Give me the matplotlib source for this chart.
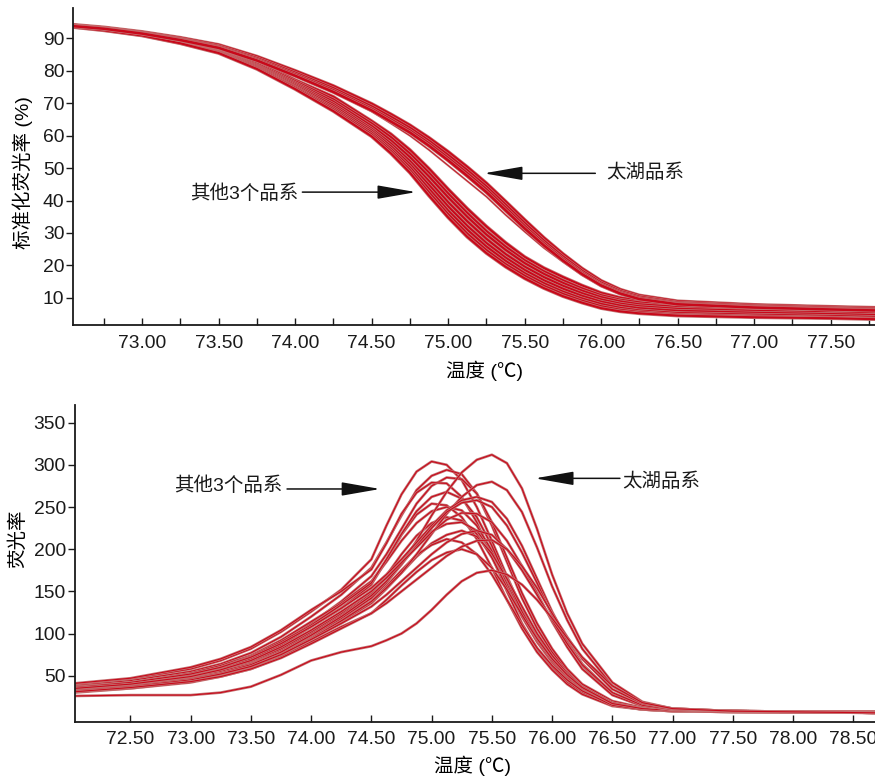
import matplotlib
matplotlib.use("Agg")
import matplotlib.pyplot as plt
import numpy as np

plt.rcParams['font.family'] = ['Liberation Sans', 'Noto Sans CJK SC', 'DejaVu Sans']

# ---------------- top panel: normalised melting curves ----------------
temp_top = [72.55, 72.75, 73.0, 73.25, 73.5, 73.75, 74.0, 74.25, 74.5, 74.625, 74.75, 74.875,
            75.0, 75.125, 75.25, 75.375, 75.5, 75.625, 75.75, 75.875, 76.0, 76.125, 76.25,
            76.5, 77.0, 77.5, 77.79]

taihu_norm = [
    [94.2, 93.4, 92.0, 90.2, 88.0, 84.4, 80.0, 75.3, 69.8, 66.6, 63.2, 59.3, 55.0, 50.3, 45.3, 39.7, 34.0, 28.5, 23.5, 19.0, 15.2, 12.5, 10.7, 8.9, 7.8, 7.2, 6.9],
    [94.0, 93.2, 91.8, 89.9, 87.6, 83.9, 79.4, 74.6, 69.0, 65.8, 62.4, 58.4, 54.0, 49.3, 44.3, 38.7, 33.0, 27.6, 22.7, 18.3, 14.6, 12.0, 10.3, 8.5, 7.5, 6.9, 6.6],
    [93.9, 93.1, 91.6, 89.7, 87.3, 83.5, 78.9, 74.0, 68.3, 65.0, 61.6, 57.6, 53.1, 48.4, 43.4, 37.8, 32.1, 26.8, 22.0, 17.7, 14.1, 11.6, 9.9, 8.2, 7.2, 6.6, 6.3],
    [93.8, 93.0, 91.5, 89.5, 87.1, 83.2, 78.5, 73.5, 67.8, 64.4, 61.0, 56.9, 52.4, 47.6, 42.6, 37.0, 31.4, 26.2, 21.5, 17.3, 13.8, 11.3, 9.6, 8.0, 7.0, 6.4, 6.1],
]
taihu_light = [93.9, 93.1, 91.6, 89.6, 87.2, 83.4, 78.6, 73.5, 67.5, 63.8, 60.0, 55.6, 50.8, 46.0, 41.2, 35.6, 30.4, 25.4, 21.1, 17.0, 13.6, 11.1, 9.5, 7.9, 6.9, 6.3, 6.0]

other_norm = [
    [94.0, 93.1, 91.6, 89.5, 87.0, 83.0, 77.2, 72.0, 64.5, 60.5, 55.6, 49.8, 43.5, 37.5, 32.0, 27.0, 22.6, 19.2, 16.4, 13.8, 11.5, 10.0, 9.2, 8.3, 7.6, 7.0, 6.6],
    [93.9, 93.0, 91.5, 89.3, 86.7, 82.6, 76.8, 71.2, 63.8, 59.6, 54.5, 48.6, 42.2, 36.2, 30.6, 25.8, 21.6, 18.2, 15.4, 12.9, 10.8, 9.4, 8.6, 7.8, 7.2, 6.7, 6.3],
    [93.8, 92.9, 91.4, 89.2, 86.5, 82.2, 76.3, 70.5, 63.0, 58.6, 53.4, 47.4, 41.0, 35.0, 29.5, 24.8, 20.7, 17.4, 14.6, 12.2, 10.2, 8.9, 8.0, 7.2, 6.6, 6.1, 5.8],
    [93.8, 92.9, 91.3, 89.0, 86.3, 81.8, 75.9, 69.8, 62.2, 57.6, 52.2, 46.0, 39.5, 33.6, 28.2, 23.5, 19.6, 16.4, 13.7, 11.4, 9.5, 8.2, 7.4, 6.6, 6.0, 5.5, 5.2],
    [93.7, 92.8, 91.2, 88.9, 86.1, 81.5, 75.5, 69.2, 61.6, 56.8, 51.2, 44.8, 38.2, 32.2, 26.9, 22.4, 18.6, 15.4, 12.8, 10.6, 8.8, 7.6, 6.8, 6.0, 5.4, 5.0, 4.7],
    [93.6, 92.7, 91.1, 88.7, 85.9, 81.2, 75.1, 68.6, 61.0, 56.0, 50.3, 43.6, 36.9, 31.0, 25.8, 21.4, 17.6, 14.5, 11.9, 9.8, 8.1, 6.9, 6.1, 5.3, 4.8, 4.4, 4.1],
    [93.6, 92.6, 91.0, 88.6, 85.7, 80.9, 74.8, 68.1, 60.4, 55.3, 49.4, 42.5, 35.8, 29.8, 24.7, 20.4, 16.8, 13.7, 11.2, 9.1, 7.4, 6.3, 5.6, 4.8, 4.3, 3.9, 3.6],
    [93.5, 92.5, 90.9, 88.5, 85.5, 80.6, 74.4, 67.6, 59.8, 54.6, 48.6, 41.5, 34.8, 28.8, 23.8, 19.6, 16.0, 13.0, 10.5, 8.5, 6.8, 5.8, 5.2, 4.5, 4.0, 3.7, 3.4],
]

# ---------------- bottom panel: derivative melting peaks ----------------
temp_bot = [72.04, 72.5, 73.0, 73.25, 73.5, 73.75, 74.0, 74.25, 74.5, 74.625, 74.75, 74.875,
            75.0, 75.125, 75.25, 75.375, 75.5, 75.625, 75.75, 75.875, 76.0, 76.125, 76.25,
            76.5, 76.75, 77.0, 77.5, 78.68]

other_deriv = [
    [40, 46, 58, 68, 82, 102, 126, 152, 188, 228, 265, 292, 304, 300, 282, 250, 210, 168, 128, 95, 70, 50, 35, 18, 11, 9, 8, 7],
    [38, 44, 55, 64, 77, 96, 120, 146, 178, 208, 240, 270, 287, 294, 289, 266, 228, 185, 142, 106, 78, 56, 38, 19, 11, 9, 8, 7],
    [36, 42, 52, 60, 72, 90, 112, 138, 168, 194, 224, 254, 275, 285, 283, 266, 232, 190, 148, 112, 82, 58, 40, 20, 12, 9, 8, 7],
    [41, 47, 60, 70, 84, 104, 128, 150, 176, 207, 242, 267, 279, 278, 262, 232, 192, 150, 112, 82, 60, 42, 30, 15, 10, 8, 7, 6],
    [35, 40, 50, 58, 70, 86, 108, 130, 158, 187, 217, 241, 254, 252, 238, 212, 178, 140, 106, 78, 57, 40, 28, 14, 10, 8, 7, 6],
    [33, 38, 47, 54, 65, 80, 100, 122, 148, 169, 194, 216, 231, 238, 234, 218, 190, 155, 120, 90, 66, 47, 33, 16, 10, 8, 7, 6],
    [34, 39, 48, 56, 67, 82, 102, 124, 150, 167, 187, 206, 221, 230, 232, 222, 198, 166, 130, 98, 72, 52, 36, 18, 11, 9, 8, 7],
    [37, 42, 53, 62, 74, 92, 114, 136, 162, 185, 210, 231, 245, 250, 246, 228, 198, 160, 124, 92, 68, 48, 34, 17, 11, 9, 8, 7],
    [36, 41, 51, 60, 73, 90, 110, 134, 160, 188, 218, 245, 262, 268, 260, 238, 204, 164, 126, 94, 70, 50, 35, 17, 11, 9, 8, 7],
    [30, 35, 43, 50, 60, 75, 94, 114, 136, 153, 172, 191, 207, 217, 222, 215, 195, 165, 132, 100, 74, 53, 37, 18, 11, 9, 8, 7],
    [32, 37, 45, 52, 62, 77, 96, 116, 138, 156, 175, 193, 205, 212, 208, 194, 170, 140, 110, 83, 62, 45, 32, 15, 10, 8, 7, 6],
    [31, 35, 42, 49, 58, 72, 90, 108, 124, 140, 157, 173, 187, 196, 200, 194, 178, 152, 122, 94, 70, 51, 36, 17, 11, 9, 8, 7],
]

taihu_deriv = [
    [35, 40, 48, 55, 64, 78, 97, 118, 142, 160, 182, 210, 240, 268, 291, 306, 312, 302, 272, 224, 170, 124, 88, 42, 19, 11, 8, 6],
    [34, 39, 47, 53, 62, 76, 94, 115, 138, 154, 172, 194, 218, 242, 262, 276, 280, 270, 244, 202, 156, 116, 82, 38, 17, 11, 8, 6],
    [36, 42, 52, 60, 72, 88, 108, 130, 154, 170, 188, 208, 228, 246, 258, 262, 256, 236, 204, 165, 126, 92, 64, 29, 15, 10, 8, 6],
    [33, 38, 46, 53, 63, 78, 98, 120, 145, 162, 182, 204, 225, 244, 255, 258, 250, 228, 196, 160, 122, 90, 62, 28, 14, 10, 8, 6],
    [35, 40, 49, 57, 68, 84, 104, 126, 150, 166, 184, 202, 220, 235, 243, 242, 232, 210, 180, 148, 114, 84, 58, 27, 14, 10, 8, 6],
    [32, 37, 45, 52, 61, 75, 93, 112, 132, 146, 162, 178, 194, 208, 218, 222, 217, 200, 175, 146, 116, 88, 63, 30, 15, 10, 8, 6],
    [31, 36, 43, 49, 58, 71, 88, 106, 124, 136, 150, 164, 178, 192, 203, 210, 211, 200, 180, 154, 124, 96, 70, 34, 17, 11, 8, 6],
    [26, 27, 27, 30, 37, 51, 68, 78, 85, 92, 100, 112, 128, 146, 162, 172, 175, 170, 158, 140, 118, 95, 72, 38, 18, 11, 8, 6],
]

top_yticks = [10, 20, 30, 40, 50, 60, 70, 80, 90]
top_xticks = [73.0, 73.5, 74.0, 74.5, 75.0, 75.5, 76.0, 76.5, 77.0, 77.5]
bot_yticks = [50, 100, 150, 200, 250, 300, 350]
bot_xticks = [72.5, 73.0, 73.5, 74.0, 74.5, 75.0, 75.5, 76.0, 76.5, 77.0, 77.5, 78.0, 78.5]

label_other = "其他3个品系"
label_taihu = "太湖品系"
xlabel = "温度 (℃)"
ylabel_top = "标准化荧光率 (%)"
ylabel_bot = "荧光率"

EDGE = '#c47474'
CORE = '#c8081a'

fig = plt.figure(figsize=(8.75, 7.77), dpi=100)
ax1 = fig.add_axes([0.0838, 0.5817, 0.9162, 0.408])
ax2 = fig.add_axes([0.0857, 0.0712, 0.9143, 0.4076])


def draw(ax, x, y, edge_lw=2.2, core_lw=1.0):
    ax.plot(x, y, color=EDGE, lw=edge_lw, solid_joinstyle='round', solid_capstyle='butt')
    ax.plot(x, y, color=CORE, lw=core_lw, solid_joinstyle='round', solid_capstyle='butt')


for ys in other_norm:
    draw(ax1, temp_top, ys, 2.6, 1.5)
draw(ax1, temp_top, taihu_light, 1.4, 0.5)
for ys in taihu_norm:
    draw(ax1, temp_top, ys, 2.8, 1.8)

for ys in other_deriv:
    draw(ax2, temp_bot, ys, 1.9, 0.8)
for ys in taihu_deriv:
    draw(ax2, temp_bot, ys, 1.9, 0.8)

for ax in (ax1, ax2):
    for s in ('top', 'right'):
        ax.spines[s].set_visible(False)
    for s in ('left', 'bottom'):
        ax.spines[s].set_linewidth(1.3)
        ax.spines[s].set_color('#1a1a1a')
    ax.tick_params(axis='x', which='both', direction='in', length=5, width=1.0,
                   labelsize=13.9, pad=7, colors='#1a1a1a')
    ax.tick_params(axis='y', which='both', direction='out', length=5, width=1.0,
                   labelsize=13.9, pad=1.5, colors='#1a1a1a')

ax1.set_xlim(72.55, 77.79)
ax1.set_ylim(1.6, 99.4)
ax1.set_xticks(top_xticks)
ax1.set_xticklabels([f"{v:.2f}" for v in top_xticks])
ax1.set_xticks([v + 0.25 for v in [72.5] + top_xticks], minor=True)
ax1.set_yticks(top_yticks)

ax2.set_xlim(72.04, 78.68)
ax2.set_ylim(-4.5, 371)
ax2.set_xticks(bot_xticks)
ax2.set_xticklabels([f"{v:.2f}" for v in bot_xticks])
ax2.set_yticks(bot_yticks)

ax1.set_xlabel(xlabel, fontsize=14)
ax1.xaxis.set_label_coords(0.513, -0.112)
ax1.set_ylabel(ylabel_top, fontsize=14)
ax1.yaxis.set_label_coords(-0.050, 0.481)
ax2.set_xlabel(xlabel, fontsize=14)
ax2.xaxis.set_label_coords(0.497, -0.108)
ax2.set_ylabel(ylabel_bot, fontsize=14)
ax2.yaxis.set_label_coords(-0.060, 0.577)

arrow_style = '-|>,head_length=2.4,head_width=0.42'


def annotate(ax, text, xt, yt, ha, x0, x1, ya):
    ax.text(xt, yt, text, ha=ha, va='center', fontsize=14, color='#1a1a1a')
    ax.annotate('', xy=(x1, ya), xytext=(x0, ya),
                arrowprops=dict(arrowstyle=arrow_style, mutation_scale=10,
                                lw=1.1, color='#111111', shrinkA=0, shrinkB=0))


annotate(ax1, label_other, 74.02, 42.0, 'right', 74.047, 74.79, 42.6)
annotate(ax1, label_taihu, 76.03, 48.6, 'left', 75.962, 75.234, 48.4)
annotate(ax2, label_other, 73.76, 275, 'right', 73.80, 74.573, 271.4)
annotate(ax2, label_taihu, 76.585, 280, 'left', 76.563, 75.858, 284)

fig.savefig('out.png', dpi=100)
